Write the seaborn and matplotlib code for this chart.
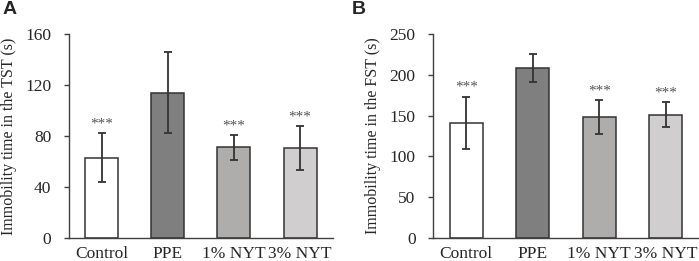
import matplotlib
matplotlib.use("Agg")
import matplotlib.pyplot as plt
import seaborn as sns
import numpy as np
import pandas as pd

groups = ["Control", "PPE", "1% NYT", "3% NYT"]
tst_mean = [63, 114, 71, 70.5]
tst_err = [19, 32, 10, 17]
fst_mean = [141, 208, 148, 151]
fst_err = [32, 17, 20.5, 15.5]
signif = ["***", "", "***", "***"]
bar_colors = ["#ffffff", "#7f7f7f", "#afabab", "#d0cece"]

sns.set_style("white")
plt.rcParams['font.family'] = ['Liberation Serif', 'DejaVu Serif']

fig = plt.figure(figsize=(6.99, 2.61), dpi=100)
ax1 = fig.add_axes([0.0987, 0.088, 0.3777, 0.782])
ax2 = fig.add_axes([0.6195, 0.088, 0.3805, 0.782])

panels = [
    (ax1, tst_mean, tst_err, "Immobility time in the TST (s)", (0, 160), np.arange(0, 161, 40), 2.0, "A", 0.004),
    (ax2, fst_mean, fst_err, "Immobility time in the FST (s)", (0, 250), np.arange(0, 251, 50), 3.5, "B", 0.503),
]

for ax, means, errs, ylabel, ylim, yticks, pad, letter, lx in panels:
    df = pd.DataFrame({"group": groups, "value": means})
    sns.barplot(ax=ax, data=df, x="group", y="value", hue="group", palette=bar_colors,
                width=0.5, edgecolor="#333333", linewidth=1.1, legend=False)
    ax.errorbar(np.arange(len(groups)), means, yerr=errs, fmt="none",
                ecolor="#333333", elinewidth=1.3, capsize=3, capthick=1.3)
    for i, (m, e, s) in enumerate(zip(means, errs, signif)):
        if s:
            ax.text(i, m + e + pad, s, ha="center", va="bottom", fontsize=11, color="#555555")
    ax.set_ylim(*ylim)
    ax.set_xlim(-0.5, 3.5)
    ax.set_yticks(yticks)
    ax.set_xlabel("")
    ax.set_ylabel(ylabel, fontsize=11.5, labelpad=6)
    ax.tick_params(axis="y", which="major", labelsize=12.5, length=3.6, width=1.0, color="#404040",
                   direction="out", left=True, pad=9)
    ax.tick_params(axis="x", labelsize=12.5, length=0, pad=6)
    sns.despine(ax=ax)
    for sp in ["left", "bottom"]:
        ax.spines[sp].set_color("#404040")
        ax.spines[sp].set_linewidth(1.0)
    fig.text(lx, 0.93, letter, fontsize=14, fontweight="bold",
             family="Liberation Sans", ha="left", va="bottom")

fig.savefig("out.png", dpi=100, facecolor="#FFFFFF")
